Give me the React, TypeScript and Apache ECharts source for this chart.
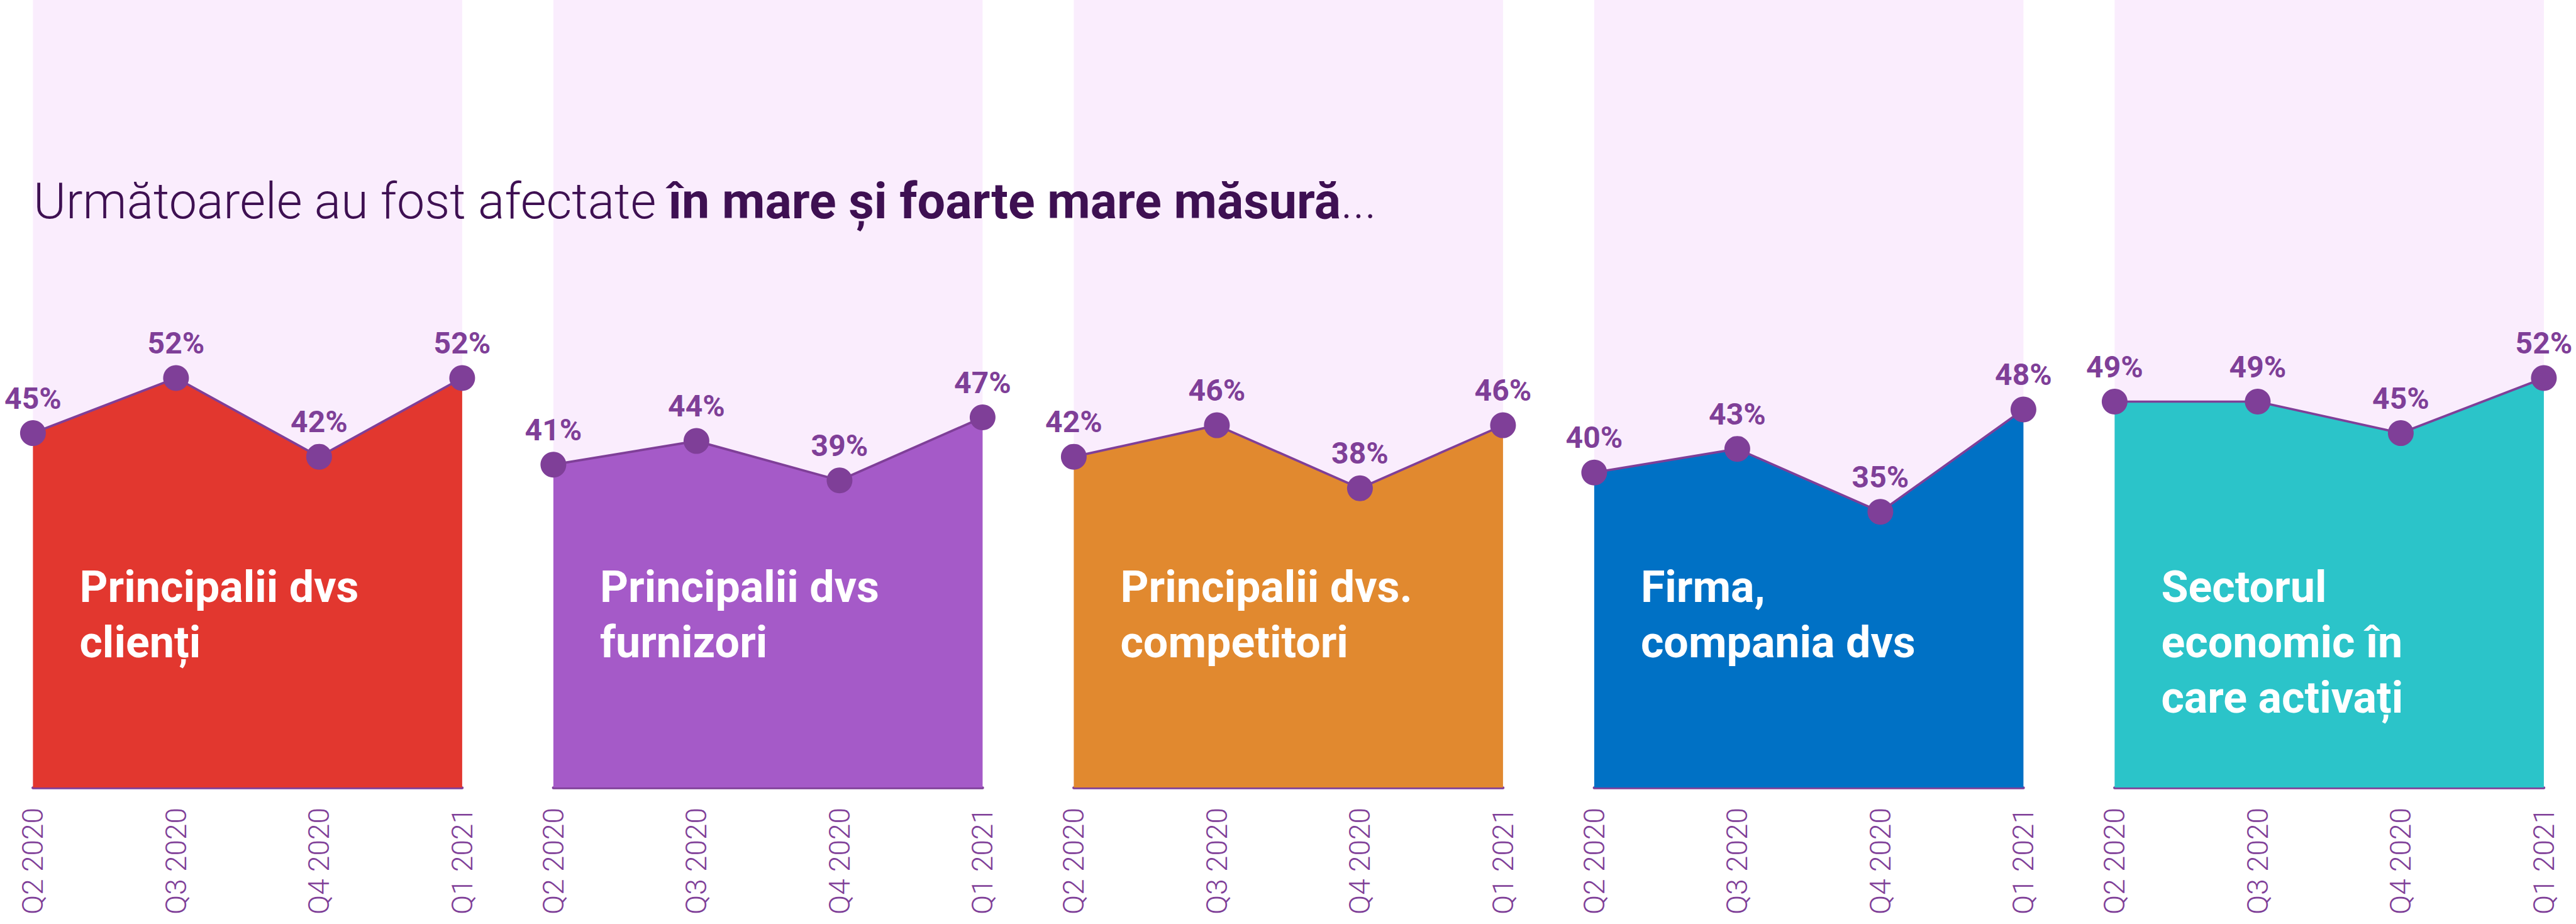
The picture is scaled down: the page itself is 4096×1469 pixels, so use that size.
import React, { useEffect, useRef } from "react";
import * as echarts from "echarts";

const categories = ["Q2 2020", "Q3 2020", "Q4 2020", "Q1 2021"];
const clienti = [45, 52, 42, 52];
const furnizori = [41, 44, 39, 47];
const competitori = [42, 46, 38, 46];
const firma = [40, 43, 35, 48];
const sector = [49, 49, 45, 52];
const seriesValues = [clienti, furnizori, competitori, firma, sector];
const panelNames = [
  "Principalii dvs\nclienți",
  "Principalii dvs\nfurnizori",
  "Principalii dvs.\ncompetitori",
  "Firma,\ncompania dvs",
  "Sectorul\neconomic în\ncare activați",
];
const areaColors = ["#E2372F", "#A55AC8", "#E1892F", "#0071C5", "#2BC4C9"];
const titleLight = "Următoarele au fost afectate ";
const titleBold = "în mare și foarte mare măsură";
const titleEnd = "...";

const FONT = "Roboto, 'Noto Sans', sans-serif";
const PURPLE = "#7F3F98";
const PINK = "#FAEDFD";

const PANEL_LEFT = 52.4;
const PANEL_STEP = 827.5;
const PANEL_W = 682.5;
const GRID_TOP = 0;
const GRID_H = 1252;

export default function App() {
  const ref = useRef<HTMLDivElement>(null);
  useEffect(() => {
    if (!ref.current) return;
    const chart = echarts.init(ref.current, undefined, { renderer: "svg" });
    const grids = seriesValues.map((_, i) => ({
      left: PANEL_LEFT + PANEL_STEP * i,
      top: GRID_TOP,
      width: PANEL_W,
      height: GRID_H,
      show: true,
      backgroundColor: PINK,
      borderWidth: 0,
    }));
    const xAxes = seriesValues.map((_, i) => ({
      type: "category",
      gridIndex: i,
      data: categories,
      boundaryGap: false,
      axisLine: { show: true, lineStyle: { color: PURPLE, width: 4.6 } },
      axisTick: { show: false },
      axisLabel: {
        rotate: 90,
        margin: 32,
        fontSize: 46,
        fontWeight: 300,
        fontFamily: FONT,
        color: PURPLE,
        interval: 0,
      },
      splitLine: { show: false },
    }));
    const yAxes = seriesValues.map((_, i) => ({
      type: "value",
      gridIndex: i,
      min: 0,
      max: 100,
      show: false,
      splitLine: { show: false },
    }));
    const series = seriesValues.map((vals, i) => ({
      type: "line",
      xAxisIndex: i,
      yAxisIndex: i,
      data: vals,
      symbol: "circle",
      symbolSize: 41,
      itemStyle: { color: PURPLE },
      lineStyle: { color: PURPLE, width: 3.7 },
      areaStyle: { color: areaColors[i], opacity: 1 },
      label: {
        show: true,
        position: "top",
        distance: 11,
        formatter: "{c}%",
        fontSize: 48,
        fontWeight: "bold",
        fontFamily: FONT,
        color: PURPLE,
      },
      z: 3,
    }));
    const graphics = panelNames.map((name, i) => ({
      type: "text",
      x: PANEL_LEFT + PANEL_STEP * i + 74,
      y: 889,
      z: 100,
      style: {
        text: name,
        fill: "#FFFFFF",
        fontSize: 70,
        fontWeight: "bold",
        fontFamily: FONT,
        lineHeight: 88,
        verticalAlign: "top",
        align: "left",
      },
    }));
    chart.setOption({
      animation: false,
      backgroundColor: "#FFFFFF",
      title: {
        text: `{a|${titleLight}}{b|${titleBold}}{a|${titleEnd}}`,
        left: 53,
        top: 280,
        padding: 0,
        z: 50,
        textStyle: {
          rich: {
            a: { fontSize: 79, fontWeight: 300, fontFamily: FONT, color: "#3E1052", lineHeight: 79 },
            b: { fontSize: 79, fontWeight: "bold", fontFamily: FONT, color: "#3E1052", lineHeight: 79 },
          },
        },
      },
      grid: grids,
      xAxis: xAxes,
      yAxis: yAxes,
      series,
      graphic: { elements: graphics },
    });
    return () => chart.dispose();
  }, []);
  return (
    <div
      ref={ref}
      style={{ position: "fixed", left: 0, top: 0, width: "4096px", height: "1469px" }}
    />
  );
}
